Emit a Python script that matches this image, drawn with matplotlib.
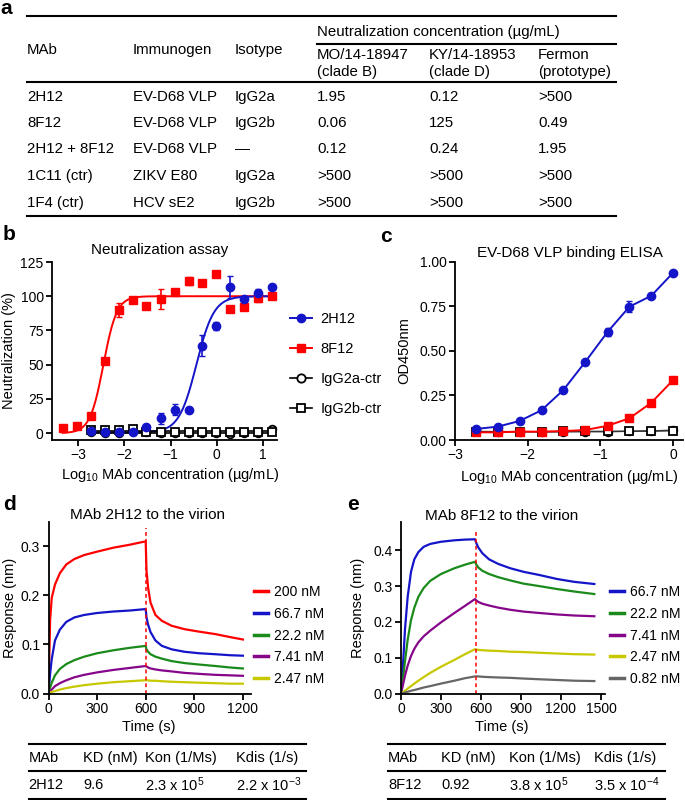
import matplotlib
matplotlib.use("Agg")
import numpy as np
from matplotlib import pyplot as plt
from matplotlib.lines import Line2D

W, H = 685, 800  # figure size in pixels (dpi 100)

plt.rcParams["font.family"] = ["Liberation Sans", "DejaVu Sans"]
plt.rcParams["mathtext.fontset"] = "custom"
plt.rcParams["mathtext.rm"] = "Liberation Sans"
plt.rcParams["mathtext.it"] = "Liberation Sans:italic"
plt.rcParams["mathtext.bf"] = "Liberation Sans:bold"
plt.rcParams["font.size"] = 10
plt.rcParams["axes.linewidth"] = 1.3

RED = "#ff0000"
BLUE = "#1414c8"
GREEN = "#1a8a1a"
PURPLE = "#86068a"
YELLOW = "#c8c800"
GRAY = "#666666"

# ---- panel a: neutralization table ----
strain_names = ["MO/14-18947", "KY/14-18953", "Fermon"]
strain_clades = ["(clade B)", "(clade D)", "(prototype)"]
mab_names = ["2H12", "8F12", "2H12 + 8F12", "1C11 (ctr)", "1F4 (ctr)"]
immunogens = ["EV-D68 VLP", "EV-D68 VLP", "EV-D68 VLP", "ZIKV E80", "HCV sE2"]
isotypes = ["IgG2a", "IgG2b", "\u2014", "IgG2a", "IgG2b"]
neut_mo = ["1.95", "0.06", "0.12", ">500", ">500"]
neut_ky = ["0.12", "125", "0.24", ">500", ">500"]
neut_fermon = [">500", "0.49", "1.95", ">500", ">500"]

# ---- panel b: neutralization assay (log10 ug/mL vs %) ----
x_8f12 = [-3.33, -3.03, -2.72, -2.42, -2.12, -1.82, -1.52, -1.21,
          -0.91, -0.61, -0.31, -0.01, 0.29, 0.59, 0.89, 1.19]
y_8f12 = [3.4, 5.3, 12.7, 52.9, 90.0, 97.0, 92.8, 98.0,
          102.8, 111.0, 110.0, 116.0, 90.4, 91.9, 98.5, 100.4]
err_8f12 = [0, 0, 0, 0, 5, 0, 0, 7, 0, 3, 0, 0, 0, 0, 3, 0]

x_2h12 = [-2.72, -2.42, -2.12, -1.82, -1.52, -1.21, -0.91,
          -0.61, -0.31, -0.01, 0.29, 0.59, 0.89, 1.19]
y_2h12 = [1.5, 0.5, 0.5, 1.0, 4.5, 11.0, 17.0, 17.0, 64.0, 78.0, 107.0, 98.0, 102.0, 107.0]
err_2h12 = [0, 0, 0, 0, 0, 4, 4, 0, 8, 3, 8, 0, 3, 0]

y_g2a_ctr = [0.5, 0.0, 0.0, 1.5, 0.5, 0.0, 0.0, 0.0, 0.0, 0.0, -0.5, 0.0, 0.0, 3.0]
y_g2b_ctr = [2.5, 2.5, 2.5, 3.0, 1.0, 1.0, 1.0, 0.5, 0.5, 0.5, 0.5, 0.5, 0.5, 1.0]

# four-parameter logistic fits (bottom, top, logEC50, hill)
fit_8f12 = (0.0, 100.0, -2.45, 3.0)
fit_2h12 = (0.5, 100.0, -0.44, 2.3)

# ---- panel c: binding ELISA ----
x_elisa = [-2.71, -2.41, -2.11, -1.81, -1.51, -1.21, -0.90, -0.60, -0.30, 0.0]
od_2h12 = [0.062, 0.075, 0.107, 0.167, 0.280, 0.437, 0.607, 0.748, 0.809, 0.938]
od_2h12_err = [0, 0, 0, 0, 0, 0, 0.022, 0.032, 0, 0]
od_8f12 = [0.043, 0.043, 0.047, 0.047, 0.050, 0.056, 0.080, 0.122, 0.209, 0.336]
od_g2a_ctr = [0.048, 0.047, 0.047, 0.046, 0.046, 0.047, 0.047, 0.049, 0.051, 0.055]
od_g2b_ctr = [0.047, 0.046, 0.047, 0.046, 0.048, 0.048, 0.048, 0.049, 0.050, 0.052]

# ---- panel d: BLI traces, MAb 2H12 ----
d_labels = ["200 nM", "66.7 nM", "22.2 nM", "7.41 nM", "2.47 nM"]
d_time = [0, 10, 20, 40, 70, 110, 160, 220, 300, 400, 500, 600,
          605, 615, 630, 660, 700, 760, 840, 930, 1030, 1120, 1200]
d_200 = [0, 0.150, 0.195, 0.222, 0.245, 0.263, 0.274, 0.282, 0.289, 0.297, 0.303, 0.310,
         0.250, 0.215, 0.185, 0.160, 0.148, 0.138, 0.131, 0.126, 0.121, 0.115, 0.110]
d_66 = [0, 0.040, 0.070, 0.108, 0.130, 0.146, 0.155, 0.160, 0.164, 0.167, 0.169, 0.172,
        0.155, 0.140, 0.125, 0.108, 0.097, 0.090, 0.085, 0.082, 0.080, 0.078, 0.077]
d_22 = [0, 0.012, 0.022, 0.037, 0.050, 0.060, 0.068, 0.075, 0.082, 0.088, 0.093, 0.097,
        0.090, 0.085, 0.080, 0.075, 0.071, 0.066, 0.062, 0.059, 0.056, 0.053, 0.051]
d_7 = [0, 0.004, 0.008, 0.015, 0.021, 0.027, 0.033, 0.038, 0.043, 0.048, 0.052, 0.056,
       0.055, 0.053, 0.051, 0.049, 0.047, 0.045, 0.042, 0.040, 0.038, 0.037, 0.036]
d_2 = [0, 0.002, 0.003, 0.005, 0.008, 0.011, 0.014, 0.017, 0.020, 0.023, 0.025, 0.027,
       0.027, 0.027, 0.026, 0.026, 0.025, 0.024, 0.023, 0.022, 0.021, 0.020, 0.020]
d_switch = 600

# ---- panel e: BLI traces, MAb 8F12 ----
e_labels = ["66.7 nM", "22.2 nM", "7.41 nM", "2.47 nM", "0.82 nM"]
e_time = [0, 15, 30, 50, 75, 100, 130, 170, 220, 300, 400, 480, 555,
          565, 580, 610, 660, 730, 820, 920, 1040, 1170, 1300, 1450]
e_66 = [0, 0.080, 0.180, 0.270, 0.340, 0.375, 0.395, 0.410, 0.418, 0.424, 0.428, 0.430, 0.431,
        0.420, 0.408, 0.392, 0.375, 0.362, 0.350, 0.340, 0.331, 0.320, 0.312, 0.306]
e_22 = [0, 0.040, 0.090, 0.150, 0.205, 0.240, 0.270, 0.295, 0.315, 0.334, 0.350, 0.360, 0.368,
        0.360, 0.352, 0.343, 0.334, 0.325, 0.316, 0.307, 0.300, 0.292, 0.285, 0.278]
e_7 = [0, 0.025, 0.050, 0.078, 0.105, 0.125, 0.143, 0.160, 0.176, 0.199, 0.225, 0.245, 0.264,
       0.260, 0.256, 0.251, 0.246, 0.240, 0.234, 0.229, 0.225, 0.221, 0.218, 0.216]
e_2 = [0, 0.004, 0.008, 0.014, 0.021, 0.028, 0.036, 0.046, 0.058, 0.075, 0.094, 0.110, 0.124,
       0.123, 0.122, 0.121, 0.120, 0.119, 0.117, 0.116, 0.114, 0.112, 0.110, 0.109]
e_08 = [0, 0.001, 0.003, 0.005, 0.008, 0.010, 0.013, 0.017, 0.021, 0.028, 0.036, 0.043, 0.048,
        0.048, 0.048, 0.047, 0.046, 0.045, 0.044, 0.042, 0.040, 0.038, 0.036, 0.035]
e_switch = 560

# ---- kinetics tables ----
kin_header = ["MAb", "KD (nM)", "Kon (1/Ms)", "Kdis (1/s)"]
kin_2h12 = ["2H12", "9.6", r"2.3 x 10$^{5}$", r"2.2 x 10$^{-3}$"]
kin_8f12 = ["8F12", "0.92", r"3.8 x 10$^{5}$", r"3.5 x 10$^{-4}$"]


fig = plt.figure(figsize=(W / 100, H / 100), dpi=100)


def text(x, y, s, **kw):
    kw.setdefault("va", "center")
    fig.text(x / W, 1 - y / H, s, **kw)


def hline(y, x0, x1, lw=1.5):
    fig.add_artist(Line2D([x0 / W, x1 / W], [1 - y / H, 1 - y / H],
                          transform=fig.transFigure, color="black", lw=lw))


def add_axes(left, top, right, bottom):
    ax = fig.add_axes([left / W, 1 - bottom / H, (right - left) / W, (bottom - top) / H])
    ax.spines["top"].set_visible(False)
    ax.spines["right"].set_visible(False)
    ax.tick_params(direction="out", length=4, width=1.3, labelsize=10, pad=2)
    return ax


def logistic(x, bottom, top, logec50, hill):
    return bottom + (top - bottom) / (1 + 10 ** ((logec50 - x) * hill))


# panel labels
for lab, x, y in [("a", 0, 8), ("b", 3, 235), ("c", 380, 237), ("d", 3, 505), ("e", 347, 505)]:
    text(x, y, lab, fontsize=15, fontweight="bold", ha="left")

# ---------- panel a ----------
col_x = [27, 133, 235, 317, 429, 538]
hline(16, 27, 616)
hline(44, 317, 616)
hline(82, 27, 616)
hline(216, 27, 616)
TS = 10.8
text(col_x[0], 50, "MAb", fontsize=TS)
text(col_x[1], 50, "Immunogen", fontsize=TS)
text(col_x[2], 50, "Isotype", fontsize=TS)
text(col_x[3], 32, "Neutralization concentration (\u00b5g/mL)", fontsize=TS)
for i in range(3):
    text(col_x[3 + i], 55, strain_names[i], fontsize=TS)
    text(col_x[3 + i], 72, strain_clades[i], fontsize=TS)
row_y = [97, 123, 149, 176, 203]
for i, y in enumerate(row_y):
    vals = [mab_names[i], immunogens[i], isotypes[i], neut_mo[i], neut_ky[i], neut_fermon[i]]
    for x, v in zip(col_x, vals):
        text(x, y, v, fontsize=TS)

# ---------- panel b ----------
ax = add_axes(52, 262, 277, 440)
xs = np.linspace(min(x_8f12), max(x_8f12), 300)
ax.plot(xs, logistic(xs, *fit_8f12), color=RED, lw=1.4)
xs = np.linspace(min(x_2h12), max(x_2h12), 300)
ax.plot(xs, logistic(xs, *fit_2h12), color=BLUE, lw=1.4)
ax.plot([min(x_2h12), max(x_2h12)], [np.mean(y_g2a_ctr)] * 2, color="black", lw=1.2)
ax.plot([min(x_2h12), max(x_2h12)], [np.mean(y_g2b_ctr)] * 2, color="black", lw=1.2)
ax.errorbar(x_8f12, y_8f12, yerr=err_8f12, fmt="s", color=RED, ms=6, capsize=2.5, elinewidth=1.2)
ax.errorbar(x_2h12, y_2h12, yerr=err_2h12, fmt="o", color=BLUE, ms=6, capsize=2.5, elinewidth=1.2)
ax.plot(x_2h12, y_g2a_ctr, "o", mfc="white", mec="black", mew=1.3, ms=5.5)
ax.plot(x_2h12, y_g2b_ctr, "s", mfc="white", mec="black", mew=1.3, ms=5.5)
ax.set_xlim(-3.56, 1.3)
ax.set_ylim(-5, 125)
ax.set_xticks([-3, -2, -1, 0, 1])
ax.set_yticks([0, 25, 50, 75, 100, 125])
ax.set_ylabel("Neutralization (%)", fontsize=10.5)
ax.yaxis.set_label_coords(-0.16, 0.5)
ax.set_xlabel("Log$_{10}$ MAb concentration (\u00b5g/mL)", fontsize=10.5)
ax.xaxis.set_label_coords(0.524, -0.146)
text(160, 250, "Neutralization assay", ha="center", fontsize=11)
handles = [
    Line2D([], [], color=BLUE, marker="o", ms=6, lw=1.4),
    Line2D([], [], color=RED, marker="s", ms=6, lw=1.4),
    Line2D([], [], color="black", marker="o", mfc="white", mew=1.3, ms=6, lw=1.2),
    Line2D([], [], color="black", marker="s", mfc="white", mew=1.3, ms=6, lw=1.2),
]
ax.legend(handles, ["2H12", "8F12", "IgG2a-ctr", "IgG2b-ctr"], loc="center left",
          bbox_to_anchor=(290 / W, 1 - 364 / H), bbox_transform=fig.transFigure,
          frameon=False, fontsize=10.5, handlelength=1.5, handletextpad=0.6,
          labelspacing=1.1, borderpad=0, borderaxespad=0, numpoints=1)

# ---------- panel c ----------
ax = add_axes(455, 261.7, 683, 440)
ax.plot(x_elisa, od_g2a_ctr, "-o", color="#333333", mfc="white", mec="black", mew=1.3, ms=5.5, lw=1.0)
ax.plot(x_elisa, od_g2b_ctr, "-s", color="#333333", mfc="white", mec="black", mew=1.3, ms=5.5, lw=1.0)
ax.plot(x_elisa, od_8f12, "-s", color=RED, ms=6, lw=1.4)
ax.errorbar(x_elisa, od_2h12, yerr=od_2h12_err, fmt="-o", color=BLUE, ms=6, lw=1.4, capsize=2.5, elinewidth=1.2)
ax.set_xlim(-3, 0.136)
ax.set_ylim(0, 1.0)
ax.set_xticks([-3, -2, -1, 0])
ax.set_yticks([0, 0.25, 0.5, 0.75, 1.0])
ax.set_yticklabels(["0.00", "0.25", "0.50", "0.75", "1.00"])
ax.set_ylabel("OD450nm", fontsize=10.5)
ax.yaxis.set_label_coords(-0.19, 0.5)
ax.set_xlabel("Log$_{10}$ MAb concentration (\u00b5g/mL)", fontsize=10.5)
ax.xaxis.set_label_coords(0.5, -0.157)
for line in ax.lines:
    line.set_clip_on(False)
text(570, 253, "EV-D68 VLP binding ELISA", ha="center", fontsize=11)


# ---------- panels d and e ----------
def bli_panel(box, time, traces, colors, labels, switch, xlim, ylim, yticks, xticks,
              title, title_xy, leg_x, dash_top):
    ax = add_axes(*box)
    for y, c in zip(traces, colors):
        ax.plot(time, y, color=c, lw=1.6)
    ax.plot([switch, switch], [0, dash_top], color=RED, lw=1.1, ls=(0, (2.5, 2)))
    ax.set_xlim(*xlim)
    ax.set_ylim(*ylim)
    ax.set_xticks(xticks)
    ax.set_yticks(yticks)
    ax.set_yticklabels([f"{v:.1f}" for v in yticks])
    ax.set_xlabel("Time (s)", fontsize=10.5)
    ax.set_ylabel("Response (nm)", fontsize=10.5)
    text(title_xy[0], title_xy[1], title, ha="center", fontsize=11)
    handles = [Line2D([], [], color=c, lw=2.5) for c in colors]
    ax.legend(handles, labels, loc="center left",
              bbox_to_anchor=(leg_x / W, 1 - 635.5 / H), bbox_transform=fig.transFigure,
              frameon=False, fontsize=10, handlelength=1.0, handletextpad=0.45,
              labelspacing=0.55, borderpad=0, borderaxespad=0)
    return ax


ax = bli_panel((48.5, 521.7, 251, 693.5), d_time, [d_200, d_66, d_22, d_7, d_2],
               [RED, BLUE, GREEN, PURPLE, YELLOW], d_labels, d_switch,
               (0, 1250), (0, 0.35), [0, 0.1, 0.2, 0.3], [0, 300, 600, 900, 1200],
               "MAb 2H12 to the virion", (148, 515), 254, 0.338)
ax.yaxis.set_label_coords(-0.155, 0.5)
ax.xaxis.set_label_coords(0.496, -0.154)

ax = bli_panel((401, 521.7, 605, 693.6), e_time, [e_66, e_22, e_7, e_2, e_08],
               [BLUE, GREEN, PURPLE, YELLOW, GRAY], e_labels, e_switch,
               (0, 1530), (0, 0.48), [0, 0.1, 0.2, 0.3, 0.4], [0, 300, 600, 900, 1200, 1500],
               "MAb 8F12 to the virion", (502, 516), 610, 0.452)
ax.yaxis.set_label_coords(-0.176, 0.5)
ax.xaxis.set_label_coords(0.495, -0.154)

# ---------- kinetics tables ----------
for x0, x1, cols, row in [(28.5, 306, [28.5, 83, 145, 235.5], kin_2h12),
                          (388, 665, [388, 441, 509, 594], kin_8f12)]:
    hline(744, x0, x1)
    hline(771, x0, x1)
    hline(798.5, x0, x1)
    for x, h, v in zip(cols, kin_header, row):
        text(x, 758, h, fontsize=10.5)
        text(x, 785, v, fontsize=10.5)

fig.savefig("out.png", dpi=100)
